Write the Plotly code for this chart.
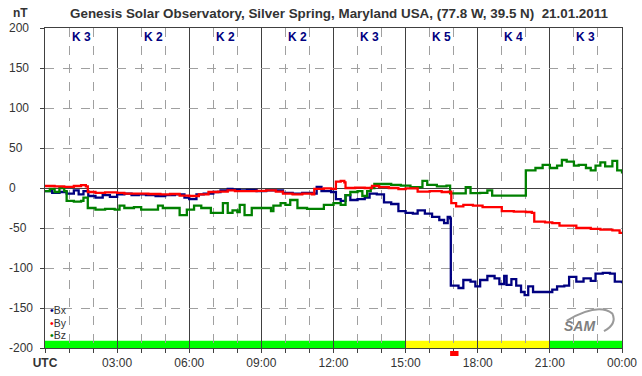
import plotly.graph_objects as go

# ---- data (hours UTC, nT) ----
bx_t = [0.0, 0.3, 0.6, 0.9, 1.2, 1.4, 1.6, 1.8, 2.1, 2.4, 2.7, 3.0, 3.3, 3.6, 3.9, 4.2, 4.6, 5.0, 5.4, 5.8,
        6.0, 6.3, 6.6, 7.0, 7.3, 7.6, 7.8, 8.1, 8.4, 8.8, 9.2, 9.6, 9.9, 10.3, 10.7, 11.1, 11.3, 11.5, 11.9,
        12.1, 12.3, 12.5, 12.7, 13.0, 13.3, 13.5, 13.8, 14.1, 14.4, 14.7, 15.0, 15.3, 15.5, 15.8, 16.1, 16.4,
        16.6, 16.75, 16.85, 16.88, 17.1, 17.2, 17.4, 17.7, 17.9, 18.1, 18.4, 18.7, 18.9, 19.1, 19.2, 19.4,
        19.6, 19.8, 19.95, 20.1, 20.3, 20.6, 20.9, 21.1, 21.3, 21.6, 21.8, 22.1, 22.4, 22.7, 22.9, 23.2,
        23.5, 23.7, 24.0]
bx_v = [-4, -6, -5, -7, -3, -8, -4, -10, -12, -9, -11, -8, -7, -9, -8, -9, -10, -9, -8, -12,
        -14, -8, -7, -5, -3, -1, -2, -3, -2.5, -4, -3, -3, -6, -7, -6, -7, 1.5, -4, -5,
        -14, -16, -9, -15, -14, -12, -7, -8, -18, -20, -29, -31, -32, -28, -32, -36, -40,
        -44, -36, -38, -122, -122, -125, -115, -117, -123, -115, -110, -113, -120, -110, -121, -114,
        -122, -130, -134, -123, -130, -130, -130, -127, -123, -122, -111, -117, -113, -116, -107, -106,
        -107, -117, -119]

by_t = [0.0, 0.4, 0.8, 1.2, 1.5, 1.7, 1.78, 2.1, 2.5, 3.0, 3.3, 3.8, 4.3, 4.8, 5.2, 5.6, 6.0, 6.4, 6.8,
        7.2, 7.6, 7.9, 8.3, 8.8, 9.2, 9.6, 9.9, 10.3, 10.7, 11.1, 11.2, 11.6, 11.9, 12.1, 12.3, 12.45,
        12.5, 12.9, 13.3, 13.6, 13.9, 14.3, 14.7, 15.0, 15.5, 16.0, 16.5, 16.8, 16.9, 17.1, 17.4, 17.8,
        18.2, 18.7, 19.0, 19.5, 20.0, 20.25, 20.35, 20.8, 21.1, 21.4, 21.8, 22.1, 22.7, 23.1, 23.6,
        23.9, 24.0]
by_v = [2.5, 2, 1.5, 2.5, 3.5, 2, -5, -6, -5.5, -6, -7, -7, -7.5, -8, -7.5, -9.5, -10, -8, -5,
        -4.5, -3, -4, -4, -3.5, -3, -4.5, -7, -8, -7, -8, -1, -0.5, -1, 8, 9, 7,
        0, 0.5, 0, 2.5, 1, 0, -1.5, -0.5, -4.5, -4, -5, -4.6, -19, -23, -21, -22,
        -24, -24, -29, -29.5, -30, -31, -42, -43, -44, -47, -47, -50, -51, -52, -53,
        -56, -57]

bz_t = [0.0, 0.2, 0.4, 0.6, 0.8, 0.9, 1.2, 1.5, 1.6, 1.78, 2.1, 2.5, 2.9, 3.1, 3.3, 3.7, 4.0, 4.5, 4.7,
        4.9, 5.3, 5.6, 5.9, 6.2, 6.5, 6.9, 7.4, 7.6, 7.8, 8.0, 8.1, 8.3, 8.6, 9.0, 9.4, 9.5, 9.8, 10.0,
        10.2, 10.5, 10.9, 11.4, 11.6, 12.0, 12.3, 12.5, 12.7, 13.0, 13.2, 13.4, 13.55, 13.7, 14.1, 14.4,
        14.8, 15.2, 15.5, 15.7, 15.9, 16.3, 16.7, 16.85, 17.3, 17.5, 17.7, 18.1, 18.4, 18.6, 19.0, 19.5,
        19.95, 20.0, 20.4, 20.7, 21.0, 21.3, 21.5, 21.7, 22.0, 22.2, 22.5, 22.7, 22.9, 23.1, 23.3, 23.6,
        23.8, 24.0]
bz_v = [-4, -1, -5, 0, -4, -16, -17, -16, -12, -25, -27, -26, -27, -22, -25, -24, -27, -27, -22,
        -25, -25, -34, -27, -22, -25, -31, -19, -31, -28, -30, -21, -34, -25, -25, -29, -22, -19, -21,
        -15, -25, -26, -26, -21, -19, -21, -9, -5, -4, -10, -4, 0, 5, 5, 4,
        3, 1, 1, 9, 4, 2, 3, -6.7, -6.7, 1, -6.5, -6, -3, -9.6, -9.6, -9.6,
        -9.6, 22, 25, 29, 25, 28, 35, 33, 28, 29, 25, 22, 28, 32, 27, 34,
        22, 18]

k_index = ["K 3", "K 2", "K 2", "K 2", "K 3", "K 5", "K 4", "K 3"]
k_centers = [1.5, 4.5, 7.5, 10.5, 13.5, 16.5, 19.5, 22.5]

x_tickvals = [0, 3, 6, 9, 12, 15, 18, 21, 24]
x_ticktext = ["<b>UTC</b>", "03:00", "06:00", "09:00", "12:00", "15:00", "18:00", "21:00", "00:00"]
y_tickvals = [200, 150, 100, 50, 0, -50, -100, -150, -200]

# status band segments: (start, end, colour)
band_start = [0, 15, 21]
band_end = [15, 21, 24]
band_color = ["#00ff00", "#ffff00", "#00ff00"]

FONT = "Liberation Sans, Arial, sans-serif"
GRID = "#a0a0a0"
DARK = "#404040"
TXT = "#333333"
PLOT_W = 577

fig = go.Figure()
fig.add_trace(go.Scatter(x=bx_t, y=bx_v, mode="lines", line=dict(color="#000080", width=2.3, shape="hv"), name="Bx"))
fig.add_trace(go.Scatter(x=bz_t, y=bz_v, mode="lines", line=dict(color="#008000", width=2.3, shape="hv"), name="Bz"))
fig.add_trace(go.Scatter(x=by_t, y=by_v, mode="lines", line=dict(color="#ff0000", width=2.3, shape="hv"), name="By"))

for s, e, c in zip(band_start, band_end, band_color):
    fig.add_shape(type="rect", xref="x", yref="y", x0=s, x1=e, y0=-200, y1=-191,
                  fillcolor=c, line=dict(width=0), layer="below")

# red marker under the axis
fig.add_shape(type="rect", xref="x", yref="paper", x0=16.85, x1=17.2, y0=-0.025, y1=-0.0094,
              fillcolor="#ff0000", line=dict(width=0))

for k, xc in zip(k_index, k_centers):
    fig.add_annotation(x=xc, y=189, xref="x", yref="y", text="<b>" + k + "</b>", showarrow=False,
                       font=dict(family=FONT, size=12, color="#000080"))

# left-aligned y tick labels (placed on the y scale)
for v in y_tickvals:
    fig.add_annotation(x=-38 / PLOT_W, y=v, xref="paper", yref="y", xanchor="left", yanchor="middle",
                       text=str(v), showarrow=False, font=dict(family=FONT, size=12, color=TXT))

legend_items = [("Bx", "#000080", -152.5), ("By", "#ff0000", -168.75), ("Bz", "#008000", -183.75)]
for name, col, yv in legend_items:
    fig.add_annotation(x=0.12, y=yv, xref="x", yref="y", xanchor="left", yanchor="middle",
                       text=f"<span style='color:{col}'>•</span>{name}", showarrow=False,
                       font=dict(family=FONT, size=10.5, color=TXT))

# SAM logo: swoosh + text
fig.add_shape(type="path", xref="x", yref="y",
              path="M 21.7,-166 Q 23.0,-143 23.6,-157 Q 23.8,-170 23.25,-179",
              line=dict(color="#9a9a9a", width=2))
fig.add_annotation(x=22.25, y=-172.5, xref="x", yref="y", text="<i><b>SAM</b></i>", showarrow=False,
                   font=dict(family=FONT, size=14, color="#7f7f7f"))

# "nT" unit label
fig.add_annotation(x=-25 / PLOT_W, y=1 + 15 / 320, xref="paper", yref="paper", xanchor="center",
                   yanchor="middle", text="<b>nT</b>", showarrow=False,
                   font=dict(family=FONT, size=12, color=TXT))

fig.update_layout(
    width=642, height=376,
    margin=dict(l=45, r=20, t=28, b=28, autoexpand=False),
    paper_bgcolor="white", plot_bgcolor="white",
    showlegend=False,
    font=dict(family=FONT, size=12, color=TXT),
    title=dict(text="<b>Genesis Solar Observatory, Silver Spring, Maryland USA, (77.8 W, 39.5 N)  21.01.2011</b>",
               x=339 / 642, xanchor="center", xref="container", y=1 - 13 / 376, yref="container",
               yanchor="middle", automargin=False,
               font=dict(family=FONT, size=13.4, color=TXT)),
    xaxis=dict(range=[0, 24], tickvals=x_tickvals, ticktext=x_ticktext, showgrid=True, automargin=False,
               gridcolor=DARK, gridwidth=1, ticks="outside", ticklen=4, tickcolor=DARK,
               showline=True, mirror=True, linecolor=DARK, linewidth=1, zeroline=False,
               minor=dict(dtick=1, tick0=0, showgrid=True, griddash="dash", gridcolor=GRID,
                          ticks="outside", ticklen=4, tickcolor=DARK),
               tickfont=dict(family=FONT, size=12, color=TXT)),
    yaxis=dict(range=[-200, 200], tickvals=y_tickvals, showticklabels=False, showgrid=True,
               gridcolor=GRID, griddash="dash", automargin=False,
               zeroline=True, zerolinecolor=DARK, zerolinewidth=1, ticks="outside", ticklen=4,
               tickcolor=DARK, showline=True, mirror=True, linecolor=DARK, linewidth=1),
)

fig.write_html("out.html", config={"displayModeBar": False},
               post_script="document.body.style.margin='0px';")
